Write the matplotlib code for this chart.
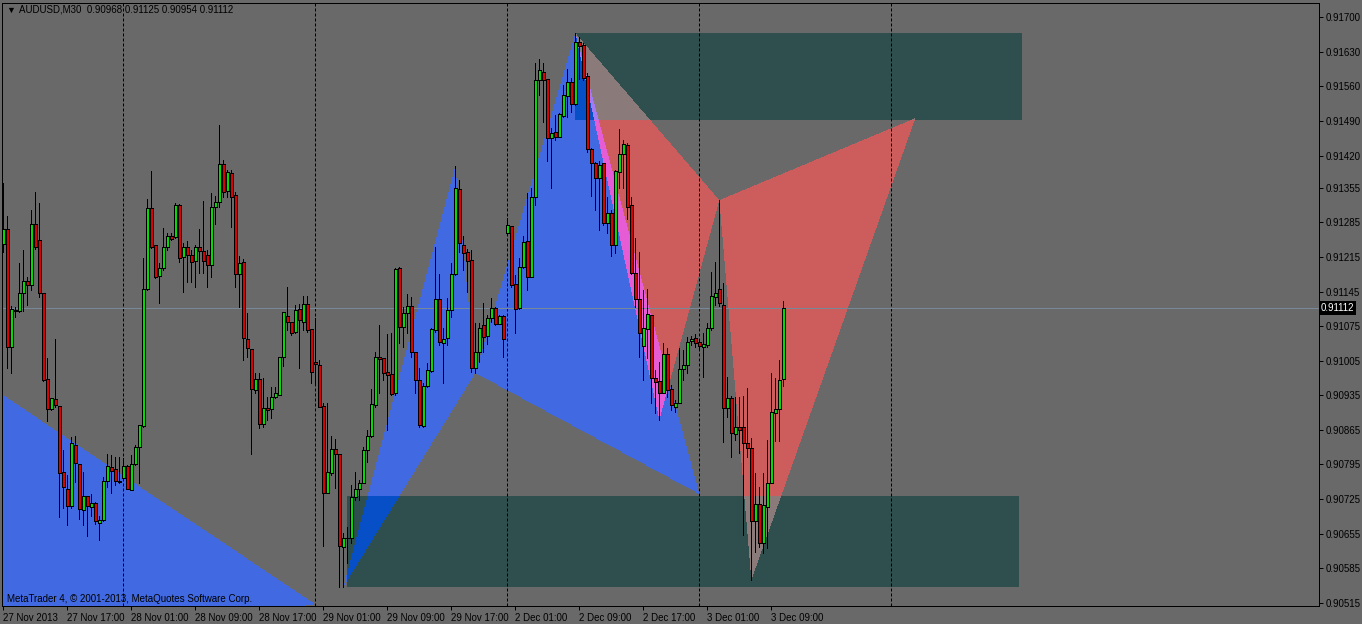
import numpy as np
import matplotlib
matplotlib.use('Agg')
import matplotlib.pyplot as plt
from matplotlib.path import Path
from matplotlib.colors import to_rgb

plt.rcParams['font.family'] = ['Liberation Sans', 'DejaVu Sans']

# ── AUDUSD M30 bars (27 Nov 2013 09:00 .. 3 Dec 2013 10:30) ─────────────────
opens = [
    0.91241, 0.91272, 0.91033, 0.91106, 0.91106, 0.91142, 0.91166, 0.91158, 0.91282, 0.91249,
    0.91142, 0.90968, 0.90907, 0.90927, 0.90913, 0.90780, 0.90745, 0.90711, 0.90834, 0.90796,
    0.90703, 0.90731, 0.90709, 0.90717, 0.90676, 0.90683, 0.90761, 0.90790, 0.90786, 0.90761,
    0.90768, 0.90792, 0.90743, 0.90796, 0.90830, 0.90873, 0.91150, 0.91314, 0.91239, 0.91176,
    0.91193, 0.91235, 0.91257, 0.91255, 0.91320, 0.91215, 0.91235, 0.91219, 0.91207, 0.91235,
    0.91227, 0.91219, 0.91199, 0.91316, 0.91326, 0.91403, 0.91348, 0.91385, 0.91340, 0.91180,
    0.91205, 0.91049, 0.91029, 0.90946, 0.90968, 0.90877, 0.90909, 0.90907, 0.90931, 0.90936,
    0.91012, 0.91095, 0.91083, 0.91063, 0.91110, 0.91083, 0.91120, 0.91069, 0.91002, 0.90996,
    0.90913, 0.90737, 0.90778, 0.90826, 0.90816, 0.90628, 0.90646, 0.90646, 0.90729, 0.90745,
    0.90757, 0.90824, 0.90853, 0.90915, 0.91012, 0.91010, 0.90982, 0.90978, 0.90940, 0.91193,
    0.91073, 0.91101, 0.91116, 0.91023, 0.90966, 0.90873, 0.90954, 0.90984, 0.91067, 0.91130,
    0.91041, 0.91051, 0.91108, 0.91180, 0.91352, 0.91239, 0.91225, 0.91209, 0.90990, 0.91023,
    0.91077, 0.91055, 0.91091, 0.91112, 0.91079, 0.91095, 0.91263, 0.91278, 0.91160, 0.91112,
    0.91195, 0.91247, 0.91174, 0.91336, 0.91573, 0.91589, 0.91575, 0.91456, 0.91468, 0.91458,
    0.91500, 0.91541, 0.91569, 0.91525, 0.91650, 0.91644, 0.91581, 0.91433, 0.91405, 0.91375,
    0.91405, 0.91284, 0.91304, 0.91239, 0.91387, 0.91423, 0.91442, 0.91320, 0.91182, 0.91130,
    0.91035, 0.91069, 0.91097, 0.90970, 0.90964, 0.90940, 0.91019, 0.90948, 0.90911, 0.90919,
    0.90988, 0.90996, 0.91045, 0.91051, 0.91043, 0.91033, 0.91037, 0.91071, 0.91134, 0.91150,
    0.91118, 0.90909, 0.90929, 0.90857, 0.90871, 0.90871, 0.90838, 0.90828, 0.90680, 0.90715,
    0.90636, 0.90709, 0.90757, 0.90899, 0.90907, 0.90968,
]
highs = [
    0.91365, 0.91298, 0.91116, 0.91114, 0.91203, 0.91229, 0.91174, 0.91310, 0.91346, 0.91324,
    0.91142, 0.91010, 0.90929, 0.91049, 0.90913, 0.90824, 0.90774, 0.90851, 0.90853, 0.90796,
    0.90780, 0.90731, 0.90735, 0.90719, 0.90691, 0.90770, 0.90816, 0.90814, 0.90810, 0.90810,
    0.90808, 0.90794, 0.90814, 0.90834, 0.90875, 0.91213, 0.91332, 0.91389, 0.91239, 0.91203,
    0.91274, 0.91263, 0.91263, 0.91324, 0.91322, 0.91243, 0.91247, 0.91229, 0.91239, 0.91272,
    0.91328, 0.91229, 0.91344, 0.91338, 0.91482, 0.91411, 0.91391, 0.91391, 0.91346, 0.91217,
    0.91211, 0.91101, 0.91029, 0.90980, 0.90980, 0.90970, 0.90931, 0.90952, 0.90952, 0.91012,
    0.91104, 0.91154, 0.91083, 0.91118, 0.91120, 0.91136, 0.91136, 0.91069, 0.91091, 0.91006,
    0.90919, 0.90919, 0.90853, 0.90846, 0.90816, 0.90656, 0.90668, 0.90753, 0.90780, 0.90763,
    0.90830, 0.90865, 0.90948, 0.91023, 0.91077, 0.91010, 0.91059, 0.91061, 0.91193, 0.91195,
    0.91114, 0.91140, 0.91134, 0.91023, 0.90990, 0.90960, 0.91000, 0.91071, 0.91235, 0.91180,
    0.91071, 0.91132, 0.91203, 0.91399, 0.91371, 0.91257, 0.91231, 0.91229, 0.91081, 0.91081,
    0.91122, 0.91097, 0.91132, 0.91114, 0.91097, 0.91097, 0.91294, 0.91278, 0.91178, 0.91213,
    0.91257, 0.91344, 0.91354, 0.91607, 0.91616, 0.91607, 0.91575, 0.91476, 0.91502, 0.91506,
    0.91563, 0.91595, 0.91577, 0.91668, 0.91660, 0.91648, 0.91587, 0.91435, 0.91407, 0.91409,
    0.91405, 0.91336, 0.91310, 0.91391, 0.91474, 0.91452, 0.91446, 0.91336, 0.91253, 0.91225,
    0.91148, 0.91150, 0.91097, 0.90986, 0.91002, 0.91041, 0.91031, 0.90956, 0.90925, 0.91031,
    0.91027, 0.91053, 0.91055, 0.91059, 0.91047, 0.91061, 0.91081, 0.91184, 0.91205, 0.91330,
    0.91162, 0.90972, 0.90933, 0.90931, 0.90931, 0.90933, 0.90950, 0.90848, 0.90778, 0.90749,
    0.90778, 0.90844, 0.90980, 0.90970, 0.91006, 0.91125,
]
lows = [
    0.91225, 0.90990, 0.90980, 0.91093, 0.91104, 0.91106, 0.91118, 0.91148, 0.91231, 0.91134,
    0.90964, 0.90883, 0.90905, 0.90911, 0.90689, 0.90707, 0.90672, 0.90707, 0.90759, 0.90685,
    0.90672, 0.90650, 0.90691, 0.90674, 0.90642, 0.90680, 0.90749, 0.90737, 0.90753, 0.90757,
    0.90763, 0.90745, 0.90743, 0.90794, 0.90757, 0.90871, 0.91148, 0.91233, 0.91172, 0.91122,
    0.91189, 0.91229, 0.91249, 0.91253, 0.91205, 0.91144, 0.91164, 0.91164, 0.91154, 0.91182,
    0.91182, 0.91154, 0.91174, 0.91282, 0.91316, 0.91336, 0.91336, 0.91276, 0.91154, 0.91114,
    0.91006, 0.91012, 0.90816, 0.90940, 0.90869, 0.90871, 0.90885, 0.90889, 0.90929, 0.90936,
    0.90994, 0.91067, 0.91057, 0.91061, 0.90990, 0.91067, 0.91063, 0.90960, 0.90960, 0.90911,
    0.90630, 0.90737, 0.90774, 0.90747, 0.90547, 0.90547, 0.90595, 0.90636, 0.90723, 0.90723,
    0.90757, 0.90800, 0.90851, 0.90911, 0.90940, 0.90966, 0.90865, 0.90936, 0.90936, 0.91041,
    0.91033, 0.91061, 0.91012, 0.90940, 0.90871, 0.90871, 0.90952, 0.90982, 0.91063, 0.91037,
    0.90960, 0.91037, 0.91093, 0.91178, 0.91225, 0.91189, 0.91144, 0.90982, 0.90980, 0.91002,
    0.91023, 0.91039, 0.91083, 0.91077, 0.91079, 0.91012, 0.91259, 0.91154, 0.91061, 0.91110,
    0.91193, 0.91148, 0.91174, 0.91320, 0.91543, 0.91488, 0.91409, 0.91354, 0.91452, 0.91458,
    0.91498, 0.91498, 0.91508, 0.91522, 0.91575, 0.91573, 0.91427, 0.91338, 0.91310, 0.91269,
    0.91280, 0.91263, 0.91217, 0.91223, 0.91354, 0.91354, 0.91292, 0.91180, 0.91114, 0.91012,
    0.90966, 0.91010, 0.90919, 0.90899, 0.90885, 0.90940, 0.90931, 0.90905, 0.90901, 0.90919,
    0.90966, 0.90980, 0.91037, 0.91033, 0.91027, 0.90972, 0.91033, 0.91067, 0.91118, 0.91116,
    0.90840, 0.90891, 0.90810, 0.90844, 0.90818, 0.90652, 0.90810, 0.90561, 0.90618, 0.90628,
    0.90616, 0.90626, 0.90757, 0.90842, 0.90842, 0.90954,
]
closes = [
    0.91272, 0.91033, 0.91110, 0.91108, 0.91142, 0.91166, 0.91158, 0.91282, 0.91235, 0.91142,
    0.90966, 0.90907, 0.90929, 0.90915, 0.90778, 0.90749, 0.90711, 0.90838, 0.90798, 0.90705,
    0.90731, 0.90711, 0.90717, 0.90680, 0.90683, 0.90761, 0.90792, 0.90782, 0.90761, 0.90759,
    0.90792, 0.90745, 0.90796, 0.90830, 0.90875, 0.91150, 0.91314, 0.91235, 0.91174, 0.91193,
    0.91235, 0.91257, 0.91251, 0.91320, 0.91213, 0.91235, 0.91219, 0.91205, 0.91235, 0.91227,
    0.91207, 0.91199, 0.91316, 0.91326, 0.91403, 0.91346, 0.91387, 0.91336, 0.91180, 0.91203,
    0.91051, 0.91031, 0.90948, 0.90968, 0.90877, 0.90909, 0.90905, 0.90931, 0.90940, 0.91012,
    0.91104, 0.91083, 0.91061, 0.91108, 0.91087, 0.91120, 0.91067, 0.90982, 0.90998, 0.90911,
    0.90737, 0.90780, 0.90826, 0.90816, 0.90630, 0.90646, 0.90646, 0.90729, 0.90745, 0.90757,
    0.90824, 0.90853, 0.90917, 0.91012, 0.91008, 0.90980, 0.90976, 0.90938, 0.91191, 0.91073,
    0.91101, 0.91116, 0.91023, 0.90966, 0.90875, 0.90954, 0.90986, 0.91069, 0.91130, 0.91043,
    0.91049, 0.91108, 0.91180, 0.91354, 0.91243, 0.91223, 0.91207, 0.90990, 0.91023, 0.91071,
    0.91053, 0.91091, 0.91112, 0.91079, 0.91095, 0.91049, 0.91280, 0.91158, 0.91110, 0.91195,
    0.91245, 0.91174, 0.91336, 0.91573, 0.91593, 0.91573, 0.91456, 0.91466, 0.91458, 0.91504,
    0.91543, 0.91569, 0.91525, 0.91650, 0.91642, 0.91577, 0.91433, 0.91405, 0.91375, 0.91401,
    0.91284, 0.91304, 0.91239, 0.91389, 0.91423, 0.91444, 0.91316, 0.91182, 0.91130, 0.91061,
    0.91071, 0.91099, 0.90970, 0.90962, 0.90940, 0.91019, 0.90946, 0.90915, 0.90919, 0.90988,
    0.90996, 0.91043, 0.91049, 0.91041, 0.91035, 0.91039, 0.91071, 0.91136, 0.91142, 0.91122,
    0.90909, 0.90929, 0.90859, 0.90871, 0.90865, 0.90838, 0.90828, 0.90680, 0.90715, 0.90636,
    0.90713, 0.90757, 0.90901, 0.90907, 0.90966, 0.91112,
]

time_ticks = [0, 16, 32, 48, 64, 80, 96, 112, 128, 144, 160, 176, 192]
time_labels = ['27 Nov 2013', '27 Nov 17:00', '28 Nov 01:00', '28 Nov 09:00', '28 Nov 17:00',
               '29 Nov 01:00', '29 Nov 09:00', '29 Nov 17:00', '2 Dec 01:00', '2 Dec 09:00',
               '2 Dec 17:00', '3 Dec 01:00', '3 Dec 09:00']
day_breaks = [30, 78, 126, 174, 222]
price_ticks = [0.91700, 0.91630, 0.91560, 0.91490, 0.91420, 0.91355, 0.91285, 0.91215, 0.91145,
               0.91075, 0.91005, 0.90935, 0.90865, 0.90795, 0.90725, 0.90655, 0.90585, 0.90515]

# harmonic pattern legs as (bar, price); bars past 195 are in the future
old_bcd = [(-40, 0.91152), (78, 0.90512), (-40, 0.90400)]
blue_xab = [(85, 0.90547), (113, 0.91399), (118, 0.90980)]
blue_bcd = [(118, 0.90980), (143, 0.91668), (174, 0.90735)]
red_xab = [(143, 0.91668), (164, 0.90885), (179, 0.91330)]
red_bcd = [(179, 0.91330), (187, 0.90561), (228, 0.91496)]
# target zones: bar from, bar to, price low, price high
zone_top = (143, 254.75, 0.91492, 0.91668)
zone_bottom = (86, 254, 0.90546, 0.90731)

BG = '#696969'
BLUE = '#4169E1'
RED = '#CD5C5C'
TEAL = '#2F4F4F'
BULL = '#00DC00'
BEAR = '#DC0000'

opens, highs, lows, closes = map(np.array, (opens, highs, lows, closes))
bars = np.arange(len(opens))

W_PX, H_PX = 1362, 624
fig = plt.figure(figsize=(W_PX / 100, H_PX / 100), dpi=100, facecolor=BG)
ax_l, ax_r, ax_t, ax_b = 2, 1319, 3, 606
ax = fig.add_axes([ax_l / W_PX, (H_PX - ax_b) / H_PX, (ax_r - ax_l) / W_PX, (ax_b - ax_t) / H_PX])
ax.set_facecolor(BG)

x0, x1 = -0.325, 328.9
y0, y1 = 0.905085, 0.91729


def rect(z):
    a, b, lo, hi = z
    return [(a, lo), (a, hi), (b, hi), (b, lo)]


# MT4 draws background objects by XOR-ing onto the chart, so overlaps change colour
shapes = [(old_bcd, BLUE), (blue_xab, BLUE), (blue_bcd, BLUE), (red_xab, RED),
          (red_bcd, RED), (rect(zone_top), TEAL), (rect(zone_bottom), TEAL)]
nw, nh = ax_r - ax_l, ax_b - ax_t
gx = x0 + (np.arange(nw) + 0.5) * (x1 - x0) / nw
gy = y1 - (np.arange(nh) + 0.5) * (y1 - y0) / nh
XX, YY = np.meshgrid(gx, gy)
pts = np.column_stack([XX.ravel(), YY.ravel()])
bg = (np.array(to_rgb(BG)) * 255).round().astype(np.uint8)
acc = np.zeros((len(pts), 3), np.uint8)
covered = np.zeros(len(pts), bool)
for verts, col in shapes:
    m = Path(verts).contains_points(pts)
    c = (np.array(to_rgb(col)) * 255).round().astype(np.uint8)
    acc[m] ^= (c ^ bg)
    covered |= m
img = np.zeros((len(pts), 4))
img[:, :3] = (acc ^ bg) / 255.0
img[:, 3] = covered
ax.imshow(img.reshape(nh, nw, 4), extent=(x0, x1, y0, y1), origin='upper',
          aspect='auto', interpolation='nearest', zorder=1)

for d in day_breaks:
    ax.axvline(d, color='black', lw=0.72, ls=(0, (3, 2)), zorder=2)
ax.axhline(closes[-1], color='#778899', lw=0.72, zorder=2)

# candles
ax.vlines(bars, lows, highs, colors='black', lw=0.72, zorder=3, antialiased=False)
body_lo = np.minimum(opens, closes)
body_h = np.abs(closes - opens)
ax.bar(bars, body_h, 0.75, bottom=body_lo, color=np.where(closes >= opens, BULL, BEAR),
       edgecolor='black', linewidth=0.72, zorder=4, antialiased=False)

ax.set_xlim(x0, x1)
ax.set_ylim(y0, y1)

ax.set_xticks(time_ticks)
ax.set_xticklabels(time_labels, ha='left')
ax.yaxis.tick_right()
ax.set_yticks(price_ticks)
ax.set_yticklabels([f'{p:.5f}' for p in price_ticks])
ax.tick_params(axis='both', direction='out', length=3, width=0.72, colors='black',
               labelsize=7, pad=2)
for s in ax.spines.values():
    s.set_color('black')
    s.set_linewidth(0.72)

ax.text(1.0015, closes[-1], f'{closes[-1]:.5f}', transform=ax.get_yaxis_transform(),
        ha='left', va='center', color='white', fontsize=7, clip_on=False, zorder=10,
        bbox=dict(boxstyle='square,pad=0.18', fc='black', ec='none'))

fig.text(6 / W_PX, 1 - 10 / H_PX, '\u25bc', fontsize=6.5, va='center', color='black')
fig.text(19 / W_PX, 1 - 10 / H_PX,
         f'AUDUSD,M30  {opens[-1]:.5f} {highs[-1]:.5f} {lows[-1]:.5f} {closes[-1]:.5f}',
         fontsize=7, va='center', color='black')
fig.text(7 / W_PX, 1 - 599 / H_PX, 'MetaTrader 4, \u00a9 2001-2013, MetaQuotes Software Corp.',
         fontsize=7, va='center', color='black')

fig.savefig('out.png', dpi=100, facecolor=BG)
